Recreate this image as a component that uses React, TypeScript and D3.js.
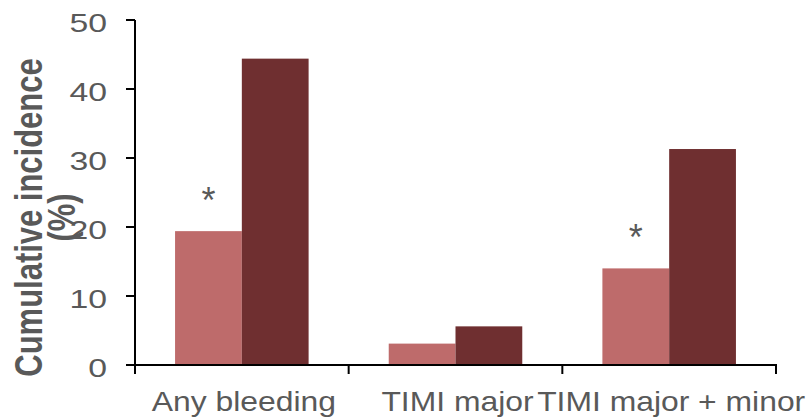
import React from "react";
import * as d3 from "d3";

const categories = ["Any bleeding", "TIMI major", "TIMI major + minor"];
const seriesKeys = ["groupA", "groupB"];
const seriesA = [19.4, 3.1, 14.0];
const seriesB = [44.4, 5.6, 31.3];
const significant = [true, false, true];
const yTicks = [0, 10, 20, 30, 40, 50];
const yTitleLines = ["Cumulative incidence", "(%)"];

const W = 806;
const H = 420;
const colors = ["#BE6B6B", "#6F2F30"];
const textColor = "#595959";
const font = "'Liberation Sans', Arial, sans-serif";

export default function App() {
  const x0 = d3.scaleBand<string>().domain(categories).range([135, 776]).paddingInner(0).paddingOuter(0);
  const x1 = d3.scaleBand<string>().domain(seriesKeys).range([0, x0.bandwidth()]).paddingInner(0).paddingOuter(0.6);
  const y = d3.scaleLinear().domain([0, 50]).range([365, 20]);
  const values = [seriesA, seriesB];

  return (
    <svg width={W} height={H} style={{ position: "absolute", left: 0, top: 0 }} fontFamily={font}>
      {categories.map((c, i) => (
        <g key={c} transform={`translate(${x0(c)},0)`}>
          {seriesKeys.map((k, j) => (
            <rect
              key={k}
              x={x1(k)}
              y={y(values[j][i])}
              width={x1.bandwidth()}
              height={y(0) - y(values[j][i])}
              fill={colors[j]}
            />
          ))}
          {significant[i] && (
            <text
              x={(x1(seriesKeys[0]) as number) + x1.bandwidth() / 2}
              y={y(seriesA[i]) - 18}
              textAnchor="middle"
              fontSize={36}
              fill={textColor}
            >
              *
            </text>
          )}
        </g>
      ))}
      <line x1={135} x2={135} y1={y(50)} y2={374} stroke="#000" strokeWidth={2} />
      {yTicks.map((t) => (
        <g key={t}>
          <line x1={126} x2={135} y1={y(t)} y2={y(t)} stroke="#000" strokeWidth={2} />
          <text
            transform={`translate(107,${y(t) + 11.5}) scale(1.3,1)`}
            textAnchor="end"
            fontSize={26}
            fill={textColor}
          >
            {t}
          </text>
        </g>
      ))}
      <line x1={134} x2={777} y1={y(0)} y2={y(0)} stroke="#000" strokeWidth={2} />
      {categories.map((c) => (
        <line key={c} x1={(x0(c) as number) + x0.bandwidth()} x2={(x0(c) as number) + x0.bandwidth()} y1={y(0)} y2={374} stroke="#000" strokeWidth={2} />
      ))}
      {categories.map((c) => (
        <text
          key={c}
          transform={`translate(${(x0(c) as number) + x0.bandwidth() / 2 + 2},411) scale(1.18,1)`}
          textAnchor="middle"
          fontSize={27}
          fill={textColor}
        >
          {c}
        </text>
      ))}
      {yTitleLines.map((l, i) => (
        <text
          key={l}
          transform={`translate(${42 + i * 33},217.5) rotate(-90) scale(1.05,1.3)`}
          textAnchor="middle"
          fontSize={29.5}
          fontWeight="bold"
          fill={textColor}
        >
          {l}
        </text>
      ))}
    </svg>
  );
}
